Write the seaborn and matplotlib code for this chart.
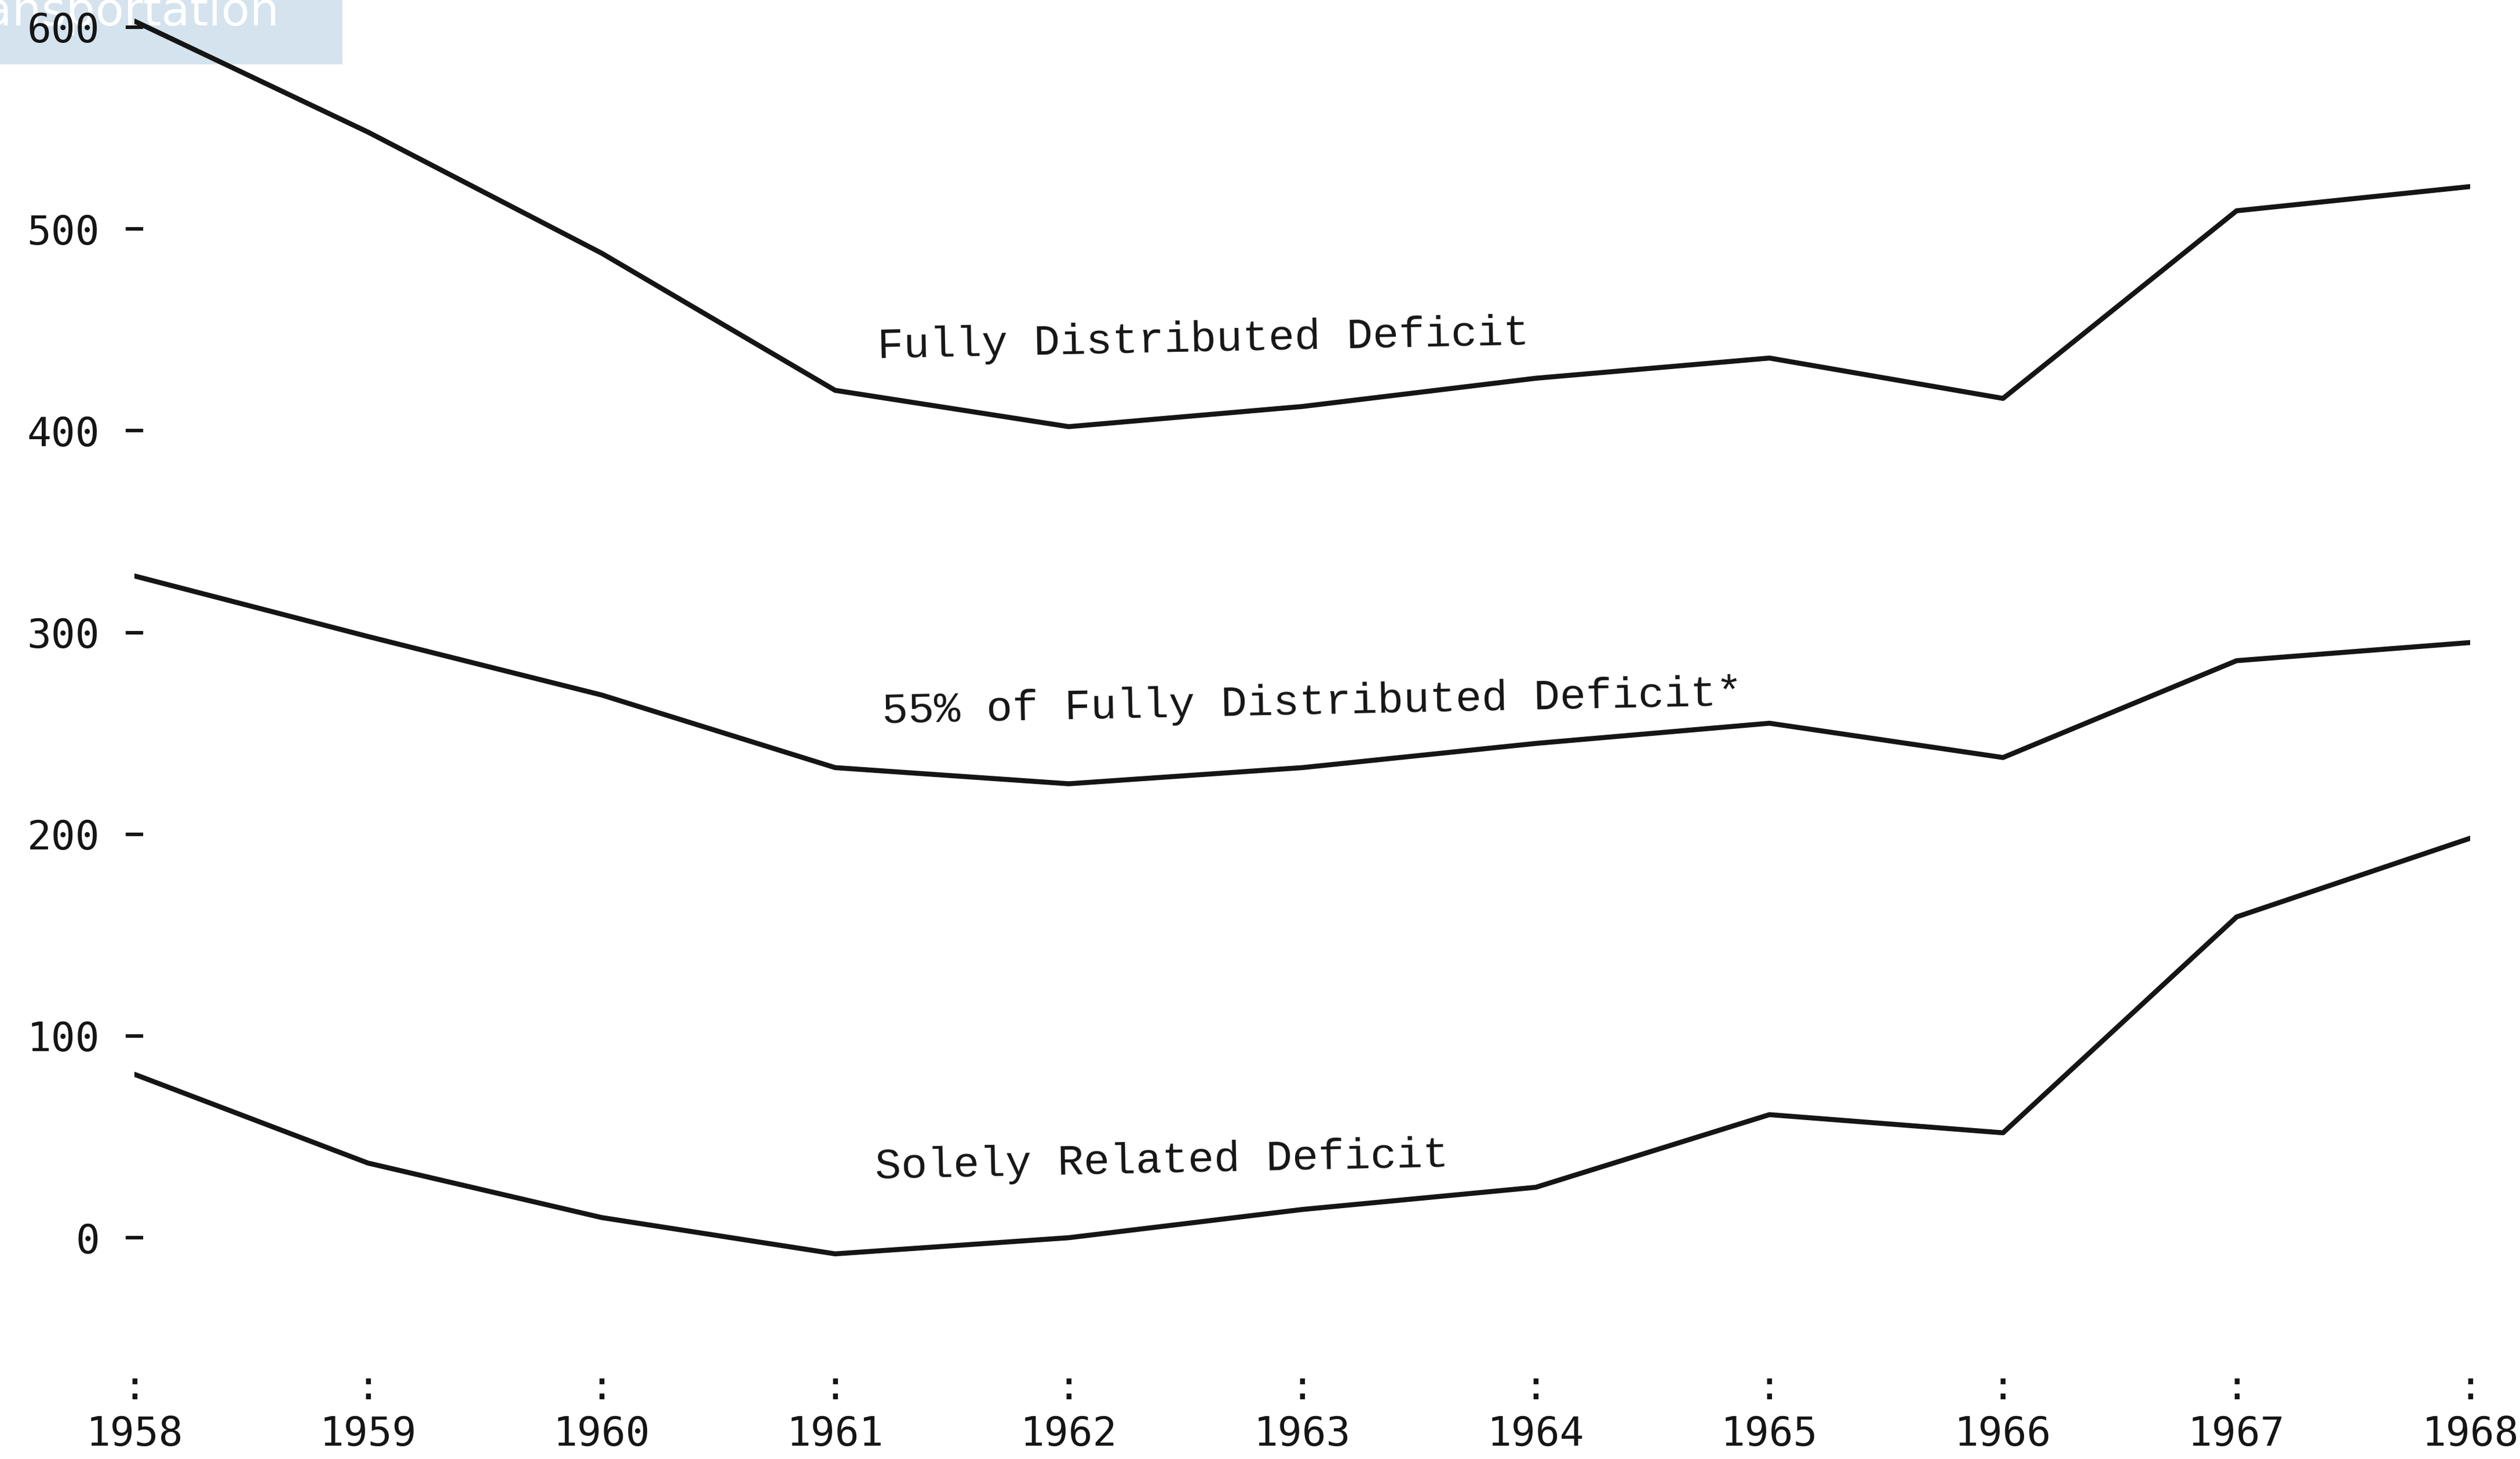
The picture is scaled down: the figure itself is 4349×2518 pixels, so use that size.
import pandas as pd
import matplotlib.pyplot as plt
import seaborn as sns
from matplotlib.patches import Rectangle

# values
years = [1958, 1959, 1960, 1961, 1962, 1963, 1964, 1965, 1966, 1967, 1968]
fully_distributed = [603, 548, 488, 420, 402, 412, 426, 436, 416, 509, 521]
pct55_fully = [328, 298, 269, 233, 225, 233, 245, 255, 238, 286, 295]
solely_related = [81, 37, 10, -8, 0, 14, 25, 61, 52, 159, 198]

series_names = ["Fully Distributed Deficit",
                "55% of Fully Distributed Deficit*",
                "Solely Related Deficit"]
label_pos = [(1961.18, 445), (1961.2, 265), (1961.17, 38)]
y_ticks = [0, 100, 200, 300, 400, 500, 600]

df = pd.DataFrame({
    "year": years * 3,
    "value": fully_distributed + pct55_fully + solely_related,
    "series": [series_names[0]] * 11 + [series_names[1]] * 11 + [series_names[2]] * 11,
})

sns.set_style("white")
fig = plt.figure(figsize=(4349 / 200, 2518 / 200), dpi=200)
ax = fig.add_axes([232 / 4349, 0.0687, (4263 - 232) / 4349, 0.9952 - 0.0687])
ax.patch.set_alpha(0)

sns.lineplot(data=df, x="year", y="value", hue="series",
             palette=["#151515"] * 3, linewidth=3.1, legend=False, ax=ax)

for name, (x, y) in zip(series_names, label_pos):
    ax.text(x, y, name, family="Liberation Mono", fontsize=27,
            color="#151515", va="center", ha="left", rotation=1.2)

ax.set_xlim(1958, 1968)
ax.set_ylim(-60, 610)
ax.set_yticks(y_ticks)
ax.set_yticklabels([str(t) for t in y_ticks], family="DejaVu Sans Mono",
                   fontsize=25, color="#151515")
ax.set_xticks(years)
ax.set_xticklabels([":\n" + str(y) for y in years], family="DejaVu Sans Mono",
                   fontsize=25, color="#151515", linespacing=1.25)
ax.tick_params(axis="y", direction="inout", length=11, width=2.2,
               color="#151515", pad=16, left=True)
ax.tick_params(axis="x", length=0, pad=6)
ax.set_xlabel("")
ax.set_ylabel("")
sns.despine(ax=ax, left=True, bottom=True)

# light blue header tab in the top left corner of the scan
fig.patches.append(Rectangle((0, 1 - 111 / 2518), 591 / 4349, 111 / 2518,
                             transform=fig.transFigure, facecolor="#d4e3ee",
                             edgecolor="none", zorder=-2))
fig.text(482 / 4349, 1 - 22 / 2518, "Transportation", color="white",
         fontsize=29, ha="right", va="center", zorder=-1)

plt.savefig("out.png", dpi=200)
